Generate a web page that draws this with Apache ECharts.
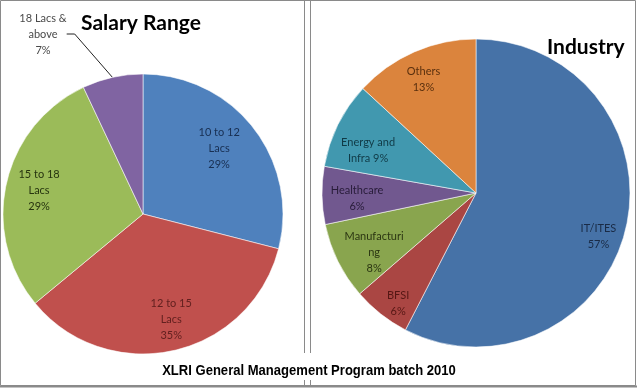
<!DOCTYPE html>
<html>
<head>
<meta charset="utf-8">
<script src="https://cdn.jsdelivr.net/npm/echarts@6/dist/echarts.min.js"></script>
<style>
html,body{margin:0;padding:0;background:#fff;}
#c{width:637px;height:388px;}
</style>
</head>
<body>
<div id="c"></div>
<script>
// Salary Range chart data
var salaryNames = ['10 to 12\nLacs', '12 to 15\nLacs', '15 to 18\nLacs', '18 Lacs &\nabove'];
var salaryValues = [29, 35, 29, 7];
// Industry chart data
var industryNames = ['IT/ITES', 'BFSI', 'Manufacturi\nng', 'Healthcare', 'Energy and\nInfra', 'Others'];
var industryValues = [57, 6, 8, 6, 9, 13];
var industrySep = ['\n', '\n', '\n', '\n', ' ', '\n'];

var titles = ['Salary Range', 'Industry', 'XLRI General Management Program batch 2010'];

// styling
var salaryColors = ['#4F81BD', '#C0504D', '#9BBB59', '#8064A2'];
var salaryTextColors = ['#182f52', '#62201f', '#26340f', '#4a4a4a'];
var salaryLabelShift = [[-8, 0], [5, 2], [0, 0], [0, 0]];
var industryColors = ['#4672A7', '#AA4643', '#89A54E', '#71588F', '#4198AF', '#DB843D'];
var industryTextColors = ['#1a2b46', '#561714', '#2b3612', '#281c39', '#103a46', '#5a300e'];
var industryLabelShift = [[0, 14], [0, 11], [11, 4], [7, 3], [5, 13], [-2, 2]];

var LABEL_FONT = 'Lato, "Open Sans", sans-serif';

function salaryData(forLabels) {
  return salaryValues.map(function (v, i) {
    var outside = (i === 3);
    var item = { name: salaryNames[i], value: v };
    if (forLabels) {
      item.itemStyle = { color: 'rgba(0,0,0,0)' };
      item.label = { show: !outside, color: salaryTextColors[i], offset: salaryLabelShift[i] };
    } else {
      item.itemStyle = { color: salaryColors[i] };
      item.label = outside ? { show: true, position: 'outside', color: salaryTextColors[i] } : { show: false };
      item.labelLine = { show: outside };
    }
    return item;
  });
}

function industryData(forLabels) {
  return industryValues.map(function (v, i) {
    var item = { name: industryNames[i], value: v };
    if (forLabels) {
      item.itemStyle = { color: 'rgba(0,0,0,0)' };
      item.label = { show: true, color: industryTextColors[i], offset: industryLabelShift[i],
        formatter: industryNames[i] + industrySep[i] + v + '%' };
    } else {
      item.itemStyle = { color: industryColors[i] };
    }
    return item;
  });
}

var chart = echarts.init(document.getElementById('c'), null, { renderer: 'canvas' });

var gray = '#8a8a8a';
chart.setOption({
  animation: false,
  backgroundColor: '#fff',
  title: [
    { text: titles[0], left: 81, top: 13, padding: 0,
      textStyle: { fontFamily: LABEL_FONT, fontWeight: 'bold', fontSize: 21, color: '#000' } },
    { text: titles[1], left: 547, top: 37, padding: 0,
      textStyle: { fontFamily: LABEL_FONT, fontWeight: 'bold', fontSize: 21, color: '#000' } }
  ],
  graphic: [
    { type: 'rect', shape: { x: 0.5, y: 0.5, width: 635, height: 385 },
      style: { fill: 'none', stroke: gray, lineWidth: 1 }, silent: true },
    { type: 'line', shape: { x1: 0, y1: 386.5, x2: 637, y2: 386.5 },
      style: { stroke: gray, lineWidth: 2 }, silent: true },
    { type: 'line', shape: { x1: 304.5, y1: 0, x2: 304.5, y2: 353 }, style: { stroke: gray, lineWidth: 1 }, silent: true },
    { type: 'line', shape: { x1: 310.5, y1: 0, x2: 310.5, y2: 353 }, style: { stroke: gray, lineWidth: 1 }, silent: true },
    { type: 'line', shape: { x1: 304.5, y1: 380, x2: 304.5, y2: 386 }, style: { stroke: gray, lineWidth: 1 }, silent: true },
    { type: 'line', shape: { x1: 310.5, y1: 380, x2: 310.5, y2: 386 }, style: { stroke: gray, lineWidth: 1 }, silent: true },
    { type: 'text', x: 309, y: 371, scaleX: 0.87, silent: true, z: 10,
      style: { text: titles[2], fill: '#000', align: 'center', verticalAlign: 'middle',
        font: 'bold 15px "Liberation Sans", Arial, sans-serif' } }
  ],
  series: [
    {
      type: 'pie', center: [143, 214], radius: 140, startAngle: 90, clockwise: true,
      silent: true, avoidLabelOverlap: false,
      itemStyle: { borderColor: 'rgba(255,255,255,0.55)', borderWidth: 1 },
      label: { fontFamily: LABEL_FONT, fontSize: 11, lineHeight: 16, align: 'center',
        formatter: function (p) { return p.name + '\n' + p.value + '%'; } },
      labelLine: { length: 40, length2: 8, lineStyle: { color: '#222', width: 1 } },
      labelLayout: function (p) {
        if (p.dataIndex === 3) {
          return { x: 43, y: 34, align: 'center', verticalAlign: 'middle' };
        }
      },
      data: salaryData(false)
    },
    {
      type: 'pie', center: [143, 214], radius: 207, startAngle: 90, clockwise: true,
      silent: true, z: 3,
      label: { position: 'inside', fontFamily: LABEL_FONT, fontSize: 11, lineHeight: 16,
        formatter: function (p) { return p.name + '\n' + p.value + '%'; } },
      labelLine: { show: false },
      data: salaryData(true)
    },
    {
      type: 'pie', center: [476, 193], radius: 154, startAngle: 90, clockwise: true,
      silent: true,
      itemStyle: { borderColor: 'rgba(255,255,255,0.55)', borderWidth: 1 },
      label: { show: false }, labelLine: { show: false },
      data: industryData(false)
    },
    {
      type: 'pie', center: [476, 193], radius: 246, startAngle: 90, clockwise: true,
      silent: true, z: 3,
      label: { position: 'inside', fontFamily: LABEL_FONT, fontSize: 11, lineHeight: 16 },
      labelLine: { show: false },
      data: industryData(true)
    }
  ]
});
</script>
</body>
</html>
